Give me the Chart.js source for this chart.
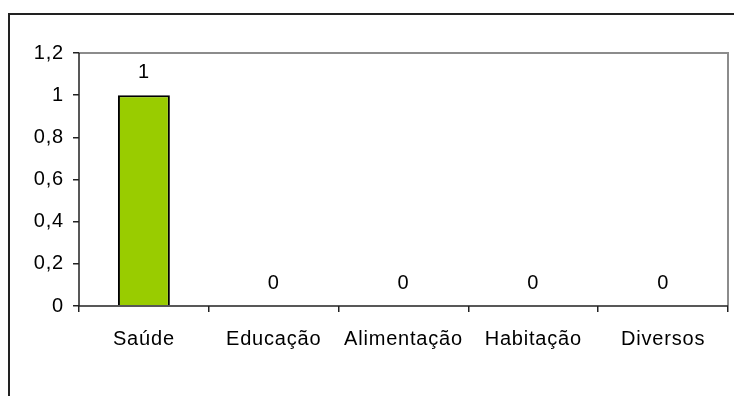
<!DOCTYPE html>
<html>
<head>
<meta charset="utf-8">
<script src="https://cdn.jsdelivr.net/npm/chart.js@4"></script>
<style>
	body { margin: 0; background: #fff; }
	#wrap { position: relative; width: 734px; height: 396px; }
	#frame { position: absolute; left: 8px; top: 13px; width: 740px; height: 400px; border-top: 2px solid #222; border-left: 2px solid #222; }
	canvas { position: absolute; left: 0; top: 0; }
</style>
</head>
<body>
<div id="wrap">
	<div id="frame"></div>
	<canvas id="despesas" width="734" height="396"></canvas>
</div>
<script>
var categorias = ['Saúde', 'Educação', 'Alimentação', 'Habitação', 'Diversos'];
var valores = [1, 0, 0, 0, 0];
var yTicks = [0, 0.2, 0.4, 0.6, 0.8, 1, 1.2];

var fonte = '"Liberation Sans", Arial, sans-serif';

function virgula(v) {
	return Number(v.toFixed(1)).toString().replace('.', ',');
}

// letras um pouco mais espaçadas, como no original
const espaco = {
	id: 'espaco',
	beforeDraw: function(chart) { chart.ctx.letterSpacing = '0.8px'; }
};

// rótulos acima das barras + borda cinza da área do gráfico
const extras = {
	id: 'extras',
	afterDatasetsDraw: function(chart) {
		const ctx = chart.ctx;
		const area = chart.chartArea;
		ctx.save();
		ctx.strokeStyle = '#8c8c8c';
		ctx.lineWidth = 2;
		ctx.beginPath();
		ctx.moveTo(area.left, area.top);
		ctx.lineTo(area.right, area.top);
		ctx.lineTo(area.right, area.bottom);
		ctx.stroke();

		ctx.strokeStyle = '#222';
		ctx.lineWidth = 1.5;
		ctx.beginPath();
		ctx.moveTo(area.left, area.top);
		ctx.lineTo(area.left, area.bottom);
		ctx.lineTo(area.right, area.bottom);
		ctx.stroke();

		ctx.fillStyle = '#000';
		ctx.font = '20px ' + fonte;
		ctx.textAlign = 'center';
		ctx.textBaseline = 'alphabetic';
		const meta = chart.getDatasetMeta(0);
		meta.data.forEach(function(bar, i) {
			ctx.fillText(virgula(valores[i]), bar.x, bar.y - 17);
		});
		ctx.restore();
	}
};

const ctx = document.getElementById('despesas').getContext('2d');
const grafico = new Chart(ctx, {
	type: 'bar',
	data: {
		labels: categorias,
		datasets: [{
			data: valores,
			backgroundColor: '#99cc00',
			borderColor: '#000',
			borderWidth: 2,
			barPercentage: 0.4,
			categoryPercentage: 1
		}]
	},
	options: {
		responsive: false,
		animation: false,
		layout: { padding: { top: 53, right: 6, left: 0, bottom: 0 } },
		plugins: { legend: { display: false }, tooltip: { enabled: false } },
		scales: {
			x: {
				offset: true,
				grid: { offset: true, drawOnChartArea: false, color: '#222', tickLength: 6, lineWidth: 1.5 },
				border: { display: false },
				ticks: { color: '#000', font: { size: 20, family: fonte }, padding: 15 },
				afterFit: function(scale) { scale.height = 90; }
			},
			y: {
				min: 0,
				max: 1.2,
				afterBuildTicks: function(scale) { scale.ticks = yTicks.map(function(v) { return { value: v }; }); },
				grid: { drawOnChartArea: false, color: '#222', tickLength: 6, lineWidth: 1.5 },
				border: { display: false },
				ticks: {
					color: '#000',
					padding: 9,
					font: { size: 20, family: fonte },
					callback: function(v) { return virgula(v); }
				},
				afterFit: function(scale) { scale.width = 79; }
			}
		}
	},
	plugins: [espaco, extras]
});
</script>
</body>
</html>
